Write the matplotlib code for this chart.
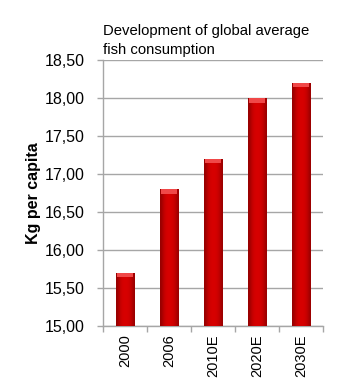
import numpy as np
import matplotlib.pyplot as plt
from matplotlib.ticker import FixedLocator, FuncFormatter

years = ['2000', '2006', '2010E', '2020E', '2030E']
kg_per_capita = [15.7, 16.8, 17.2, 18.0, 18.2]
y_ticks = [15.0, 15.5, 16.0, 16.5, 17.0, 17.5, 18.0, 18.5]

plt.rcParams['font.family'] = ['Liberation Sans', 'DejaVu Sans']

fig = plt.figure(figsize=(3.48, 3.87), dpi=100)
ax = fig.add_axes([0.296, 0.158, 0.632, 0.687])

x = np.arange(len(years))
grey = '#a6a6a6'

# cylinder-like shading: darker rim, bright core
shade = np.array([0.7, 0.85, 0.95, 1.0, 1.0, 1.0, 0.95, 0.88, 0.72])
cmap_img = np.zeros((1, len(shade), 3))
cmap_img[0, :, 0] = 0.84 * shade
cmap_img[0, :, 1] = 0.0
cmap_img[0, :, 2] = 0.0

w = 0.41
bars = ax.bar(x, np.array(kg_per_capita) - 15.0, bottom=15.0, width=w,
              color='#d00000', edgecolor='#a00000', linewidth=0.5, zorder=3)
for b in bars:
    x0, y0 = b.get_x(), b.get_y()
    im = ax.imshow(cmap_img, extent=[x0, x0 + b.get_width(), y0, y0 + b.get_height()],
                   aspect='auto', interpolation='bicubic', zorder=3)
    im.set_clip_path(b)
    # lighter top cap
    ax.fill_between([x0 + 0.02, x0 + b.get_width() - 0.02],
                    y0 + b.get_height() - 0.06, y0 + b.get_height(),
                    color='#f04848', zorder=4, linewidth=0)

ax.set_xlim(-0.5, len(years) - 0.5)
ax.set_ylim(15.0, 18.5)
ax.yaxis.set_major_locator(FixedLocator(y_ticks))
ax.yaxis.set_major_formatter(FuncFormatter(lambda v, p: f'{v:.2f}'.replace('.', ',')))
ax.grid(axis='y', color=grey, linewidth=1.0, zorder=0)
ax.set_axisbelow(True)

ax.set_xticks(x)
ax.set_xticklabels(years, rotation=90, fontsize=10.5)
ax.tick_params(axis='x', length=0, pad=6)
ax.set_xticks(np.arange(-0.5, len(years)), minor=True)
ax.tick_params(axis='x', which='minor', length=4, color=grey, width=1)
ax.tick_params(axis='y', length=4.5, color=grey, width=1, labelsize=11.5, pad=9)

for s in ['top', 'right']:
    ax.spines[s].set_visible(False)
for s in ['left', 'bottom']:
    ax.spines[s].set_color(grey)
    ax.spines[s].set_linewidth(1.0)

ax.set_ylabel('Kg per capita', fontsize=11.5, fontweight='bold', labelpad=2)
fig.text(0.296, 0.895, 'Development of global average\nfish consumption',
         fontsize=10.7, ha='left', va='center', linespacing=1.5)

fig.savefig('out.png', dpi=100)
